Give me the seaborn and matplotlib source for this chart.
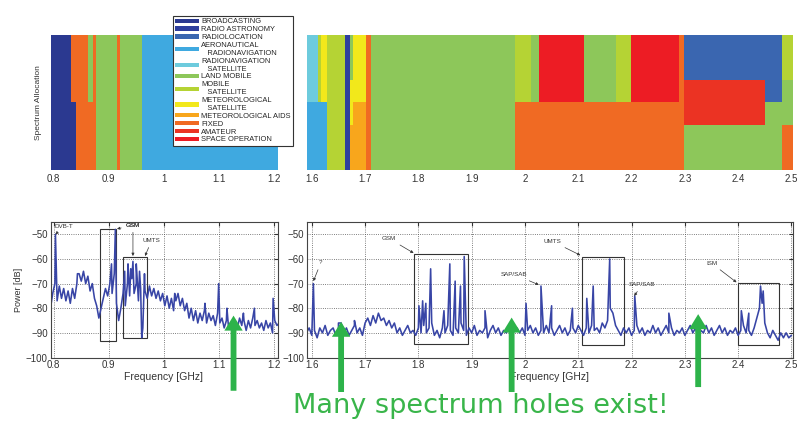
import numpy as np
import pandas as pd
import matplotlib
matplotlib.use("Agg")
import matplotlib.pyplot as plt
from matplotlib.patches import Patch, Rectangle
import seaborn as sns

sns.set_style("white")
plt.rcParams["font.family"] = ["Liberation Sans", "DejaVu Sans"]

# --- allocation legend ---
service_codes = ["BC", "RA", "RL", "AR", "RS", "LM", "MS", "MT", "MA", "FX", "AM", "SO"]
service_names = ["BROADCASTING", "RADIO ASTRONOMY", "RADIOLOCATION",
                 "AERONAUTICAL\n   RADIONAVIGATION", "RADIONAVIGATION\n   SATELLITE",
                 "LAND MOBILE", "MOBILE\n   SATELLITE", "METEOROLOGICAL\n   SATELLITE",
                 "METEOROLOGICAL AIDS", "FIXED", "AMATEUR", "SPACE OPERATION"]
service_colors = ["#2B3990", "#2E3F9E", "#3A66B0", "#3FA9E0", "#6DCBDD", "#8DC75A",
                  "#B5D334", "#F2E81B", "#F8A61C", "#F06A23", "#EB3323", "#ED1C24"]
col = dict(zip(service_codes, service_colors))

# --- allocation bands (edges in GHz, services stacked bottom -> top) ---
low_edges = [0.794, 0.832, 0.840, 0.862, 0.871, 0.876, 0.915, 0.921, 0.960, 1.207]
low_stacks = [["BC"], ["BC", "FX"], ["FX"], ["FX", "LM"], ["FX"], ["LM"], ["FX"], ["LM"], ["AR"]]

high_edges = [1.591, 1.612, 1.617, 1.628, 1.662, 1.671, 1.677, 1.702, 1.712, 1.982, 2.012,
              2.026, 2.110, 2.171, 2.199, 2.289, 2.298, 2.450, 2.483, 2.502]
high_stacks = [["AR", "RS"], ["AR", "MS"], ["AR", "MT"], ["MS"], ["RA"], ["MA", "MT", "LM"],
               ["MA", "MT"], ["FX"], ["LM"], ["FX", "MS"], ["FX", "LM"], ["FX", "SO"],
               ["FX", "LM"], ["FX", "MS"], ["FX", "SO"], ["FX"], ["LM", "AM", "RL"],
               ["LM", "RL"], ["FX", "LM", "MS"]]

# --- measured power, low band (0.79 - 1.21 GHz, step 4 MHz) ---
low_power = [-76, -80, -74, -70, -77, -71, -76, -72, -77, -73,
             -78, -72, -76, -70, -66, -69, -65, -70, -67, -73,
             -70, -76, -79, -84, -80, -76, -72, -75, -70, -74,
             -66, -78, -85, -80, -74, -79, -70, -75, -68, -74,
             -70, -77, -72, -88, -73, -76, -71, -75, -72, -76,
             -73, -77, -74, -79, -75, -80, -76, -81, -77, -74,
             -79, -76, -81, -78, -84, -80, -85, -81, -86, -82,
             -85, -81, -86, -82, -85, -83, -87, -82, -86, -84,
             -88, -85, -88, -86, -89, -85, -88, -84, -87, -85,
             -89, -85, -88, -84, -87, -85, -88, -86, -89, -85,
             -88, -86, -90, -85, -87, -86]
low_spike_f = [0.803, 0.843, 0.905, 0.912, 0.929, 0.935, 0.940, 0.944, 0.950, 0.956,
               0.960, 0.965, 1.020, 1.075, 1.100, 1.115, 1.145, 1.165, 1.199]
low_spike_db = [-50, -66, -62, -48, -65, -62, -64, -61, -62, -65,
                -92, -66, -74, -78, -70, -80, -82, -80, -76]

# --- measured power, high band (1.59 - 2.50 GHz, step 5 MHz) ---
high_power = [-90, -88, -91, -89, -92, -88, -90, -87, -91, -89, -88, -91, -89, -86, -90, -88, -91, -89, -87, -90,
              -88, -91, -86, -84, -87, -83, -86, -82, -85, -84, -87, -85, -88, -86, -90, -88, -91, -89, -87, -90,
              -89, -91, -88, -90, -87, -90, -88, -86, -91, -89, -92, -88, -90, -87, -89, -91, -88, -90, -86, -89,
              -91, -88, -90, -87, -91, -89, -90, -88, -92, -89, -87, -90, -88, -91, -89, -90, -87, -91, -89, -88,
              -90, -88, -91, -89, -87, -90, -88, -91, -89, -90, -87, -90, -88, -91, -89, -87, -90, -88, -91, -89,
              -88, -90, -87, -89, -91, -88, -90, -87, -89, -88, -90, -86, -88, -85, -80, -82, -87, -89, -91, -88,
              -90, -88, -91, -89, -87, -90, -88, -91, -89, -90, -87, -90, -88, -91, -89, -87, -90, -88, -91, -89,
              -90, -88, -91, -89, -87, -90, -88, -92, -89, -90, -87, -90, -88, -91, -89, -87, -90, -88, -91, -89,
              -90, -88, -91, -89, -87, -90, -89, -91, -88, -84, -80, -78, -86, -90, -92, -89, -91, -93, -90, -92,
              -90, -92, -91]
high_spike_f = [1.603, 1.650, 1.680, 1.801, 1.808, 1.814, 1.823, 1.848, 1.859, 1.869, 1.879, 1.886,
                1.925, 2.002, 2.030, 2.050, 2.089, 2.116, 2.128, 2.159, 2.206, 2.270, 2.406, 2.420,
                2.442, 2.447]
high_spike_db = [-70, -86, -85, -79, -77, -78, -64, -81, -62, -69, -71, -59,
                 -81, -78, -71, -79, -80, -76, -71, -60, -75, -82, -81, -82,
                 -71, -73]

# --- boxes and labels on the spectra ---
low_boxes = [(0.884, 0.914, -93.5, -48.0), (0.926, 0.969, -92.2, -59.2)]
high_boxes = [(1.7925, 1.894, -94.5, -58.0), (2.1075, 2.186, -95.0, -59.3), (2.399, 2.477, -95.0, -69.7)]
low_notes = [("DVB-T", 0.818, -46.8, 0.803, -50.0), ("GSM", 0.944, -46.3, 0.915, -47.8),
             ("GSM", 0.944, -46.3, 0.944, -58.8), ("UMTS", 0.978, -52.5, 0.966, -58.8)]
high_notes = [("?", 1.617, -61.5, 1.603, -69.0), ("GSM", 1.745, -51.7, 1.791, -57.6),
              ("SAP/SAB", 1.980, -66.3, 2.026, -70.5), ("UMTS", 2.051, -52.8, 2.104, -58.5),
              ("SAP/SAB", 2.220, -70.4, 2.205, -75.0), ("ISM", 2.350, -61.7, 2.397, -69.5)]

# green "holes" arrows (freq, tip, tail in dB)
low_holes = [(1.127, -83.0, -113.5)]
high_holes = [(1.655, -85.5, -114.0), (1.975, -83.8, -114.0), (2.325, -82.4, -112.0)]

W, H = 801, 421
fig = plt.figure(figsize=(W / 100, H / 100), dpi=100)


def box(x0, y0, x1, y1):
    return [x0 / W, 1 - y1 / H, (x1 - x0) / W, (y1 - y0) / H]


ax_al = fig.add_axes(box(50.5, 35, 277.5, 169.5))
ax_ah = fig.add_axes(box(307, 35, 792.5, 169.5))
ax_pl = fig.add_axes(box(50.5, 222, 277.5, 357.5))
ax_ph = fig.add_axes(box(307, 222, 792.5, 357.5))


def gfmt(v, pos):
    return "%g" % round(v, 2)


# allocation maps
for ax, edges, stacks in [(ax_al, low_edges, low_stacks), (ax_ah, high_edges, high_stacks)]:
    for lo, hi, st in zip(edges[:-1], edges[1:], stacks):
        n = len(st)
        for k, code in enumerate(st):
            ax.bar(lo, 1 / n, width=hi - lo, bottom=k / n, align="edge",
                   color=col[code], linewidth=0)
    ax.set_xlim(edges[0], edges[-1])
    ax.set_ylim(0, 1)
    ax.set_yticks([])
    for s in ax.spines.values():
        s.set_visible(False)
    ax.tick_params(axis="x", length=0, labelsize=7, labelcolor="#333333", pad=3)
    ax.xaxis.set_major_formatter(plt.FuncFormatter(gfmt))

ax_al.set_xticks([0.8, 0.9, 1.0, 1.1, 1.2])
ax_ah.set_xticks(np.round(np.arange(1.6, 2.51, 0.1), 1))
ax_al.set_ylabel("Spectrum Allocation", fontsize=6, color="#333333", labelpad=6)

handles = [Patch(facecolor=c, edgecolor="none") for c in service_colors]
leg = fig.legend(handles, service_names, loc="upper left",
                 bbox_to_anchor=(169 / W, 1 - 12 / H), fontsize=5.4,
                 handlelength=3.2, handleheight=0.5, labelspacing=0.11,
                 borderpad=0.35, handletextpad=0.25, fancybox=False,
                 framealpha=1, edgecolor="#333333")
leg.get_frame().set_linewidth(0.8)

# spectra
for ax, x0, step, base, sf, sd, boxes, notes, holes in [
        (ax_pl, 0.790, 0.004, low_power, low_spike_f, low_spike_db, low_boxes, low_notes, low_holes),
        (ax_ph, 1.590, 0.005, high_power, high_spike_f, high_spike_db, high_boxes, high_notes, high_holes)]:
    freq = np.round(x0 + step * np.arange(len(base)), 4)
    df = pd.DataFrame({"freq": np.concatenate([freq, sf]),
                       "power": np.concatenate([base, sd])}).sort_values("freq")
    sns.lineplot(data=df, x="freq", y="power", ax=ax, color="#3845A6",
                 linewidth=1.15, estimator=None, sort=False)
    for bx0, bx1, by0, by1 in boxes:
        ax.add_patch(Rectangle((bx0, by0), bx1 - bx0, by1 - by0, fill=False,
                               edgecolor="#333333", linewidth=0.8))
    for label, tx, ty, px, py in notes:
        ax.annotate(label, xy=(px, py), xytext=(tx, ty), fontsize=4.5, color="#333333",
                    ha="center", va="center",
                    arrowprops=dict(arrowstyle="-|>", color="#333333", lw=0.5,
                                    mutation_scale=4, shrinkA=1, shrinkB=0))
    for hx, tip, tail in holes:
        ax.annotate("", xy=(hx, tip), xytext=(hx, tail), annotation_clip=False,
                    arrowprops=dict(arrowstyle="simple,head_length=0.9,head_width=1.1,tail_width=0.35",
                                    color="#2DB34A", lw=0, mutation_scale=12,
                                    shrinkA=0, shrinkB=0))
    ax.set_ylim(-100, -45)
    ax.set_yticks([-100, -90, -80, -70, -60, -50])
    ax.grid(True, linestyle=":", color="#555555", linewidth=0.6)
    ax.tick_params(direction="in", length=3, labelsize=7, labelcolor="#333333",
                   color="#333333", pad=2, top=True, right=True)
    for s in ax.spines.values():
        s.set_color("#444444")
        s.set_linewidth(0.8)
    ax.set_xlabel("Frequency [GHz]", fontsize=7.5, color="#333333", labelpad=1)
    ax.set_ylabel("")
    ax.xaxis.set_major_formatter(plt.FuncFormatter(gfmt))

ax_pl.set_xlim(0.794, 1.207)
ax_pl.set_xticks([0.8, 0.9, 1.0, 1.1, 1.2])
ax_ph.set_xlim(1.591, 2.502)
ax_ph.set_xticks(np.round(np.arange(1.6, 2.51, 0.1), 1))
ax_pl.set_ylabel("Power [dB]", fontsize=6.5, color="#333333", labelpad=2)

fig.text(481 / W, 1 - 406 / H, "Many spectrum holes exist!", fontsize=19.5,
         color="#39B54A", ha="center", va="center", family=["DejaVu Sans"])

fig.savefig("out.png", dpi=100)
